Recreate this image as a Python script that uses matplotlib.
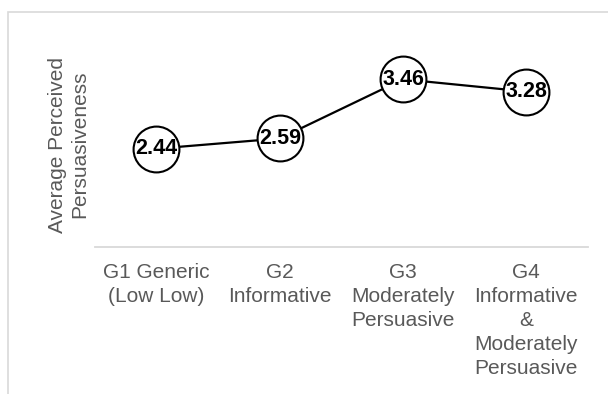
import matplotlib.pyplot as plt
from matplotlib.patches import Rectangle

plt.rcParams['font.family'] = ['Liberation Sans', 'DejaVu Sans']

# Datos
grupos = ["G1 Generic\n(Low Low)", "G2\nInformative", "G3\nModerately\nPersuasive",
          "G4\nInformative\n&\nModerately\nPersuasive"]
valores = [2.44, 2.59, 3.46, 3.28]

fig = plt.figure(figsize=(6.08, 3.94), dpi=100)
ax = fig.add_axes([0.156, 0.374, 0.811, 0.518])

x = list(range(len(grupos)))
ax.plot(x, valores, color="black", lw=1.6, marker="o", markersize=33,
        markerfacecolor="white", markeredgecolor="black", markeredgewidth=1.5,
        zorder=3)
for xi, v in zip(x, valores):
    ax.text(xi, v, f"{v:.2f}", ha="center", va="center", fontsize=15.5,
            fontweight="bold", color="black", zorder=4)

ax.set_xlim(-0.5, 3.5)
ax.set_ylim(1, 4)
ax.set_xticks(x)
ax.set_xticklabels(grupos, fontsize=15, color="#595959", linespacing=1.33)
ax.tick_params(axis="x", length=0, pad=12)
ax.set_yticks([])

for s in ["top", "right", "left"]:
    ax.spines[s].set_visible(False)
ax.spines["bottom"].set_color("#d9d9d9")
ax.spines["bottom"].set_linewidth(1.3)

ax.set_ylabel("Average Perceived\nPersuasiveness", fontsize=15, color="#595959",
              linespacing=1.25)
ax.yaxis.set_label_coords(-0.011, 0.5)

# Borde del gráfico
fig.patches.append(Rectangle((8 / 608, -0.1), 1.2, 1.1 - 12 / 394,
                             transform=fig.transFigure, fill=False,
                             edgecolor="#d9d9d9", lw=1.2))

fig.savefig("out.png", dpi=100)
